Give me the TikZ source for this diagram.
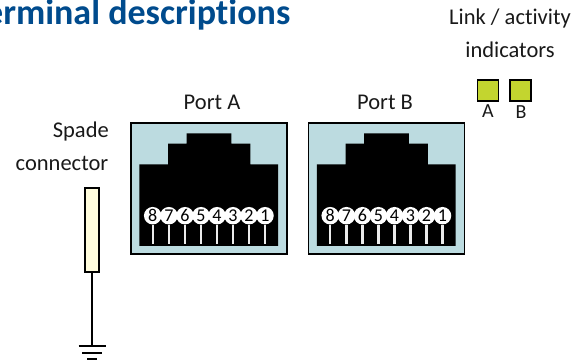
\documentclass[tikz,border=0pt]{standalone}
\usepackage{fontspec}
\setmainfont{Carlito}[Ligatures=NoCommon]
\definecolor{titleblue}{HTML}{004B8D}
\definecolor{jackbg}{HTML}{BCDBE0}
\definecolor{spadefill}{HTML}{FFFCDC}
\definecolor{ledfill}{HTML}{C3D52F}
\tikzset{
  lbl/.style={font=\fontsize{22.5}{22.5}\selectfont,inner sep=0pt,text=black!90},
  pinnum/.style={circle,fill=white,minimum size=17.5pt,inner sep=0pt,font=\fontsize{18}{18}\selectfont},
  pinline/.style={draw=white!92!black,line width=2.2pt},
  box/.style={draw=black,line width=1.9pt,inner sep=0pt},
  gnd/.style={draw=black,line width=1.6pt}
}
\newcommand{\rjack}[4]{% name, x offset, label, label x
  \node[box,fill=jackbg,minimum width=156pt,minimum height=131pt,anchor=south west] (#1) at (130+#2,-255) {};
  \fill[black] (139.3+#2,-246) -- (139.3+#2,-164.3) -- (168+#2,-164.3) -- (168+#2,-143.7) -- (186.7+#2,-143.7) -- (186.7+#2,-133.3) -- (231.3+#2,-133.3) -- (231.3+#2,-143.7) -- (250.3+#2,-143.7) -- (250.3+#2,-164.3) -- (278+#2,-164.3) -- (278+#2,-246) -- cycle;
  \foreach \n/\x in {8/152.7,7/168.9,6/185,5/201,4/217,3/233,2/249,1/265}{
    \draw[pinline] (\x+#2,-225) -- (\x+#2,-244);
    \node[pinnum] (#1p\n) at (\x+#2,-215.7) {\n};
  }
  \node[lbl] (#1l) at (#4,-102) {#3};
}
\begin{document}
\begin{tikzpicture}[x=1pt,y=1pt]
\useasboundingbox (0,-363) rectangle (583,0);
\clip (0,-363) rectangle (583,0);
\node[font=\bfseries\fontsize{36}{36}\selectfont,text=titleblue,inner sep=0pt,anchor=base east] (title) at (290.5,-25) {erminal descriptions};
\node[lbl] (link) at (510,-19) {Link / activity};
\node[lbl] (ind) at (510,-50) {indicators};
\node[box,fill=ledfill,minimum width=21pt,minimum height=21pt] (leda) at (488,-90.2) {};
\node[box,fill=ledfill,minimum width=21pt,minimum height=21pt] (ledb) at (520.8,-90.2) {};
\node[lbl,font=\fontsize{20}{20}\selectfont] (la) at (488,-111) {A};
\node[lbl,font=\fontsize{20}{20}\selectfont] (lb) at (521,-112) {B};
\rjack{ja}{0}{Port A}{212}
\rjack{jb}{177.5}{Port B}{385}
\node[lbl,anchor=east] (sp) at (109,-132) {Spade};
\node[lbl] (con) at (62,-163) {connector};
\node[box,fill=spadefill,minimum width=14.3pt,minimum height=84pt] (spade) at (92.1,-230.3) {};
\coordinate (g) at (92.1,-346);
\draw[gnd] (spade) -- (g);
\coordinate (g1l) at (78.5,-346); \coordinate (g1r) at (106,-346);
\coordinate (g2l) at (82,-353); \coordinate (g2r) at (102,-353);
\coordinate (g3l) at (87,-359); \coordinate (g3r) at (97,-359);
\draw[gnd] (g1l) -- (g1r);
\draw[gnd] (g2l) -- (g2r);
\draw[gnd] (g3l) -- (g3r);
\end{tikzpicture}
\end{document}
